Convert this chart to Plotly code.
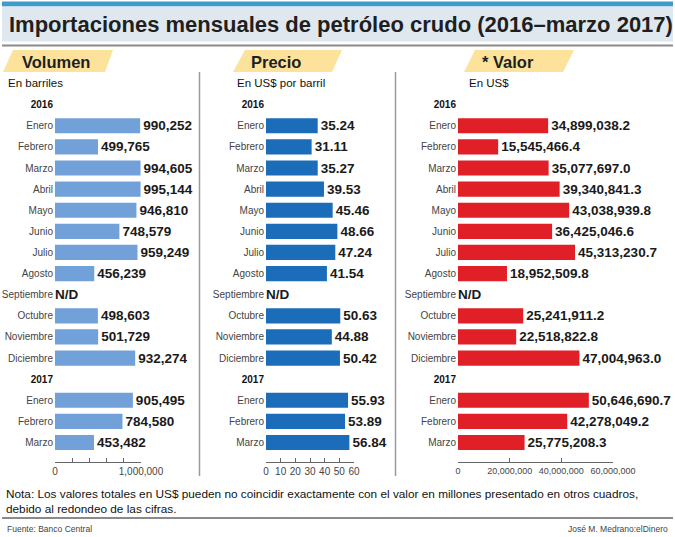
import plotly.graph_objects as go

W, H = 675, 537

# ---------------- data ----------------
meses_2016 = ["Enero", "Febrero", "Marzo", "Abril", "Mayo", "Junio", "Julio", "Agosto",
              "Septiembre", "Octubre", "Noviembre", "Diciembre"]
meses_2017 = ["Enero", "Febrero", "Marzo"]
years = ["2016", "2017"]

volumen_2016 = [990252, 499765, 994605, 995144, 946810, 748579, 959249, 456239,
                None, 498603, 501729, 932274]
volumen_2017 = [905495, 784580, 453482]

precio_2016 = [35.24, 31.11, 35.27, 39.53, 45.46, 48.66, 47.24, 41.54,
               None, 50.63, 44.88, 50.42]
precio_2017 = [55.93, 53.89, 56.84]

valor_2016 = [34899038.2, 15545466.4, 35077697.0, 39340841.3, 43038939.8, 36425046.6,
              45313230.7, 18952509.8, None, 25241911.2, 22518822.8, 47004963.0]
valor_2017 = [50646690.7, 42278049.2, 25775208.3]

vol_ticks = [0, 200000, 400000, 600000, 800000, 1000000]
vol_ticklabels = ["0", "", "", "", "", "1,000,000"]
pre_ticks = [0, 10, 20, 30, 40, 50, 60]
pre_ticklabels = ["0", "10", "20", "30", "40", "50", "60"]
val_ticks = [0, 20000000, 40000000, 60000000]
val_ticklabels = ["0", "20,000,000", "40,000,000", "60,000,000"]

titulo = "Importaciones mensuales de petróleo crudo (2016–marzo 2017)"
paneles = ["Volumen", "Precio", "* Valor"]
subtitulos = ["En barriles", "En US$ por barril", "En US$"]
nota = ("Nota: Los valores totales en US$ pueden no coincidir exactamente con el valor en millones "
        "presentado en otros cuadros,<br>debido al redondeo de las cifras.")
fuente = "Fuente: Banco Central"
autor = "José M. Medrano:elDinero"

# ---------------- styling ----------------
FONT = "Liberation Sans, Arial, Helvetica, sans-serif"
colors = ["#72a1d9", "#1b6db9", "#e01f26"]

def px(x):
    return x / W

def py(y):
    return 1 - y / H

# row positions: year header, months
pos_2016 = list(range(len(meses_2016)))
pos_2017 = [len(meses_2016) + 1 + i for i in range(len(meses_2017))]
year_pos = [-1, len(meses_2016)]
all_pos = pos_2016 + pos_2017
tickvals = [year_pos[0]] + pos_2016 + [year_pos[1]] + pos_2017
ticktext = ([f"<span style='color:#111111'><b>{years[0]}</b></span>"] + meses_2016 +
            [f"<span style='color:#111111'><b>{years[1]}</b></span>"] + meses_2017)

series = [
    (volumen_2016 + volumen_2017, lambda v: f"{v:,.0f}", vol_ticks, vol_ticklabels, [0, 1000000], 10),
    (precio_2016 + precio_2017, lambda v: f"{v:.2f}", pre_ticks, pre_ticklabels, [0, 60], 10),
    (valor_2016 + valor_2017, lambda v: f"{v:,.1f}", val_ticks, val_ticklabels, [0, 60000000], 9),
]

x_domains = [[px(55), px(141)], [px(266), px(354)], [px(458), px(613)]]
y_domain = [py(461.7), py(94.1)]

fig = go.Figure()
layout = dict(
    template="none",
    width=W, height=H,
    margin=dict(l=0, r=0, t=0, b=0, autoexpand=False),
    paper_bgcolor="white", plot_bgcolor="white",
    showlegend=False,
    font=dict(family=FONT),
)

annotations = []
shapes = []

for i, (vals, fmt, tv, tt, rng, tfs) in enumerate(series):
    sfx = "" if i == 0 else str(i + 1)
    xs = [v for v in vals if v is not None]
    ys = [p for p, v in zip(all_pos, vals) if v is not None]
    texts = [fmt(v) for v in xs]
    fig.add_trace(go.Bar(
        x=xs, y=ys, orientation="h",
        marker=dict(color=colors[i], line=dict(width=0)),
        width=0.72,
        text=texts, textposition="outside", cliponaxis=False,
        constraintext="none",
        textfont=dict(family=FONT, size=13.5, color="#1a1a1a", weight="bold"),
        xaxis="x" + sfx, yaxis="y" + sfx,
        hoverinfo="skip",
    ))
    layout["xaxis" + sfx] = dict(
        domain=x_domains[i], range=rng, anchor="y" + sfx,
        tickmode="array", tickvals=tv, ticktext=tt, tickangle=0,
        ticks="inside", ticklen=4, tickcolor="#666", tickwidth=1,
        showline=True, linecolor="#666", linewidth=1,
        showgrid=False, zeroline=False, automargin=False,
        tickfont=dict(family=FONT, size=tfs, color="#444"),
    )
    layout["yaxis" + sfx] = dict(
        domain=y_domain, range=[15.91, -1.5], anchor="x" + sfx,
        tickmode="array", tickvals=tickvals, ticktext=ticktext,
        ticks="", showline=False, showgrid=False, zeroline=False, automargin=False,
        tickfont=dict(family=FONT, size=10, color="#444"),
        ticklabelstandoff=1,
    )
    # N/D for missing values
    for p, v in zip(all_pos, vals):
        if v is None:
            annotations.append(dict(
                x=0, y=p, xref="x" + sfx, yref="y" + sfx, text="<b>N/D</b>",
                showarrow=False, xanchor="left", yanchor="middle", xshift=-2,
                font=dict(family=FONT, size=13.5, color="#1a1a1a"),
            ))

# title band
shapes += [
    dict(type="rect", xref="paper", yref="paper", x0=px(2), x1=px(673), y0=py(6.5), y1=py(1.5),
         fillcolor="#3d9cc9", line=dict(width=0), layer="below"),
    dict(type="rect", xref="paper", yref="paper", x0=px(2), x1=px(673), y0=py(41.5), y1=py(6.5),
         fillcolor="#dfe8ef", line=dict(width=0), layer="below"),
    dict(type="rect", xref="paper", yref="paper", x0=px(2), x1=px(673), y0=py(46.5), y1=py(44.5),
         fillcolor="#8a8a8a", line=dict(width=0), layer="below"),
]
annotations.append(dict(
    x=px(7), y=py(24.5), xref="paper", yref="paper", xanchor="left", yanchor="middle",
    text=f"<b>{titulo}</b>", showarrow=False,
    font=dict(family=FONT, size=22, color="#1f1f1f"),
))

# tabs
tabs = [((3, 72), (13, 50), (113, 50), (105, 72), 56),
        ((233, 72), (245, 50), (342, 50), (332, 72), 276),
        ((464, 72), (475, 50), (574, 50), (563, 72), 508)]
sub_x = [6, 235, 467]
for (a, b, c, d, cx), name, sub, sx in zip(tabs, paneles, subtitulos, sub_x):
    path = (f"M {px(a[0])},{py(a[1])} L {px(b[0])},{py(b[1])} "
            f"L {px(c[0])},{py(c[1])} L {px(d[0])},{py(d[1])} Z")
    shapes.append(dict(type="path", xref="paper", yref="paper", path=path,
                       fillcolor="#fce29b", line=dict(width=0), layer="below"))
    annotations.append(dict(
        x=px(cx), y=py(61.5), xref="paper", yref="paper", xanchor="center", yanchor="middle",
        text=f"<b>{name}</b>", showarrow=False,
        font=dict(family=FONT, size=16.5, color="#1f1f1f"),
    ))
    annotations.append(dict(
        x=px(sx), y=py(83.5), xref="paper", yref="paper", xanchor="left", yanchor="middle",
        text=sub, showarrow=False,
        font=dict(family=FONT, size=11.5, color="#111"),
    ))

# separators
for sx in [199.5, 395.5]:
    shapes.append(dict(type="line", xref="paper", yref="paper", x0=px(sx), x1=px(sx),
                       y0=py(72), y1=py(476), line=dict(color="#9a9a9a", width=1.5)))

# footer
annotations.append(dict(
    x=px(4), y=py(501), xref="paper", yref="paper", xanchor="left", yanchor="middle",
    text=nota, showarrow=False, align="left",
    font=dict(family=FONT, size=11.8, color="#111"),
))
shapes.append(dict(type="rect", xref="paper", yref="paper", x0=px(2), x1=px(673),
                   y0=py(519), y1=py(517), fillcolor="#8a8a8a", line=dict(width=0)))
annotations.append(dict(
    x=px(5), y=py(528.5), xref="paper", yref="paper", xanchor="left", yanchor="middle",
    text=fuente, showarrow=False, font=dict(family=FONT, size=8.5, color="#444"),
))
annotations.append(dict(
    x=px(670), y=py(528.5), xref="paper", yref="paper", xanchor="right", yanchor="middle",
    text=autor, showarrow=False, font=dict(family=FONT, size=8.5, color="#444"),
))

layout["annotations"] = annotations
layout["shapes"] = shapes
fig.update_layout(**layout)
fig.write_html("out.html")
